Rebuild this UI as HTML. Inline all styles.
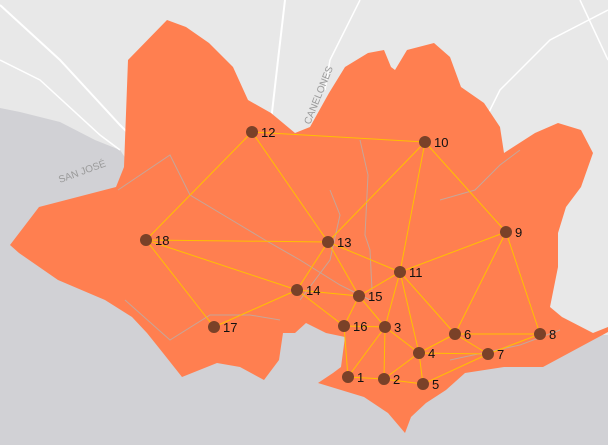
<!DOCTYPE html>
<html><head><meta charset="utf-8"><style>
html,body{margin:0;padding:0;width:608px;height:445px;overflow:hidden;background:#d1d1d5}
svg{display:block}
text{font-family:"Liberation Sans",sans-serif}
</style></head><body>
<svg id="map" width="608" height="445" viewBox="0 0 608 445">
<rect x="0" y="0" width="608" height="445" fill="#d1d1d5"/>
<polygon fill="#e8e8e8" points="0,0 608,0 608,335 400,330 130,165 120,150 95,140 60,122 20,112 0,108"/>
<path d="M0,5 L60,60 L120,125 L135,140" stroke="#fff" stroke-width="2" fill="none"/>
<path d="M0,60 L40,80 L100,135 L120,150" stroke="#fff" stroke-width="1.5" fill="none"/>
<path d="M285,0 L278,60 L270,130" stroke="#fff" stroke-width="2" fill="none"/>
<path d="M360,0 L330,60 L325,90" stroke="#fff" stroke-width="1.5" fill="none"/>
<path d="M608,10 L550,40 L500,90 L470,150" stroke="#fff" stroke-width="1.5" fill="none"/>
<path d="M580,0 L608,60" stroke="#fff" stroke-width="1.5" fill="none"/>
<text x="0" y="0" font-size="10" fill="#9a9a9a" transform="translate(310,125) rotate(-68)">CANELONES</text>
<text x="0" y="0" font-size="10" fill="#9a9a9a" transform="translate(60,183) rotate(-20)">SAN JOSÉ</text>
<polygon fill="#ff7f50" points="10,245 39,207 116,187 124,167 128,60 167,20 186,27 209,43 233,67 248,100 271,113 295,133 310,127 329,93 345,67 368,53 384,50 391,67 395,70 407,50 434,43 450,57 461,87 484,103 500,127 504,153 535,133 558,123 581,130 593,153 581,187 566,207 558,233 558,267 550,307 562,317 593,333 608,327 608,332 543,367 504,367 465,373 446,390 426,403 411,417 405,433 388,413 364,397 318,383 333,373 341,367 345,337 326,333 306,323 295,333 283,333 279,360 264,380 240,367 217,363 182,377 163,353 147,333 132,317 105,300 58,280 19,253"/>
<g stroke="#b8b0ac" stroke-width="1" fill="none" opacity="0.8">
<path d="M118,190 L170,155 L190,195 L240,225 L265,240 L300,260 L340,285 L370,300"/>
<path d="M360,140 L368,175 L365,235 L370,250 L372,290"/>
<path d="M440,200 L475,190 L500,165 L520,150"/>
<path d="M125,300 L170,340 L210,315 L250,315 L280,320"/>
<path d="M330,190 L340,215 L330,260 L300,300"/>
<path d="M450,360 L520,345 L560,330"/>
</g>
<g id="edges"></g>
<g id="nodes"></g>
</svg>
<script>
const nodeIds = [1,2,3,4,5,6,7,8,9,10,11,12,13,14,15,16,17,18];
const nodeX = [348,384,385,419,423,455,488,540,506,425,400,252,328,297,359,344,214,146];
const nodeY = [377,379,327,353,384,334,354,334,232,142,272,132,242,290,296,326,327,240];
const edgeFrom = [12,12,12,10,10,10,18,18,18,13,13,13,14,14,14,11,11,11,11,11,9,9,15,15,16,16,3,3,3,4,4,4,4,6,6,7,7,1,2];
const edgeTo   = [10,18,13,13,11,9,13,14,17,14,11,15,15,16,17,9,15,3,4,6,6,8,16,3,3,1,1,2,4,2,5,6,7,8,7,5,8,2,5];
const NS='http://www.w3.org/2000/svg';
const eg=document.getElementById('edges'), ng=document.getElementById('nodes');
function px(id){return nodeX[nodeIds.indexOf(id)];}
function py(id){return nodeY[nodeIds.indexOf(id)];}
for(let i=0;i<edgeFrom.length;i++){
  const l=document.createElementNS(NS,'line');
  l.setAttribute('x1',px(edgeFrom[i]));l.setAttribute('y1',py(edgeFrom[i]));
  l.setAttribute('x2',px(edgeTo[i]));l.setAttribute('y2',py(edgeTo[i]));
  l.setAttribute('stroke','#ffc000');l.setAttribute('stroke-width','1');
  
  
  eg.appendChild(l);
}
for(let i=0;i<nodeIds.length;i++){
  const c=document.createElementNS(NS,'circle');
  c.setAttribute('cx',nodeX[i]);c.setAttribute('cy',nodeY[i]);c.setAttribute('r','6');
  c.setAttribute('fill','#7a4128');
  
  
  ng.appendChild(c);
  const t=document.createElementNS(NS,'text');
  t.setAttribute('x',nodeX[i]+9);t.setAttribute('y',nodeY[i]+5);
  t.setAttribute('font-size','13');t.setAttribute('fill','#111');
  t.textContent=nodeIds[i];
  
  
  ng.appendChild(t);
}
</script>
</body></html>
